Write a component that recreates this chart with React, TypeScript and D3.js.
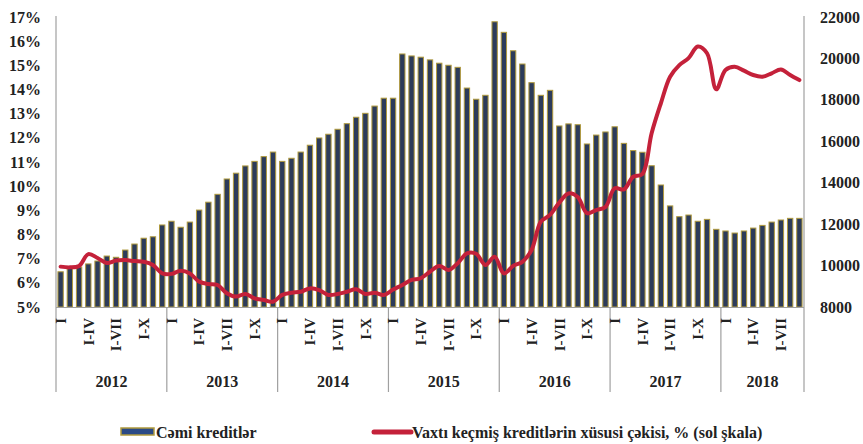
import * as d3 from 'd3'

// Cəmi kreditlər (mln. manat), monthly, 2012-I .. 2018-IX
const loans = [
  9700, 9880, 9930, 10080, 10220, 10460, 10400, 10750, 11040, 11320, 11390, 11960,
  12140, 11850, 12100, 12680, 13060, 13440, 14180, 14460, 14810, 15030, 15260, 15480,
  15030, 15180, 15480, 15810, 16160, 16340, 16580, 16850, 17160, 17350, 17700, 18080,
  18080, 20215, 20120, 20060, 19930, 19770, 19670, 19570, 18570, 18030, 18220, 21770,
  21260, 20370, 19730, 18830, 18220, 18460, 16740, 16840, 16800, 15870, 16300, 16450,
  16700, 15900, 15550, 15470, 14820, 13890, 12880, 12360, 12440, 12140, 12230, 11750,
  11670, 11570, 11670, 11810, 11940, 12100, 12200, 12280, 12280,
]

// Vaxtı keçmiş kreditlərin xüsusi çəkisi, %
const overdueShare = [
  6.67, 6.64, 6.7, 7.19, 7.03, 6.82, 6.92, 6.94, 6.9, 6.87, 6.74, 6.39,
  6.37, 6.5, 6.39, 6.05, 5.95, 5.91, 5.57, 5.43, 5.54, 5.36, 5.29, 5.22,
  5.5, 5.59, 5.63, 5.77, 5.7, 5.5, 5.54, 5.63, 5.73, 5.54, 5.59, 5.5,
  5.72, 5.91, 6.12, 6.19, 6.46, 6.7, 6.53, 6.81, 7.22, 7.2, 6.74, 7.08,
  6.39, 6.7, 6.87, 7.36, 8.53, 8.81, 9.32, 9.7, 9.55, 8.88, 9.01, 9.14,
  9.91, 9.87, 10.39, 10.5, 12.19, 13.43, 14.53, 15.01, 15.3, 15.78, 15.5, 14.01,
  14.81, 14.94, 14.78, 14.6, 14.53, 14.67, 14.83, 14.6, 14.39,
]

const years = ['2012', '2013', '2014', '2015', '2016', '2017', '2018']
const monthsInYear = [12, 12, 12, 12, 12, 12, 9]
const periodLabels = ['I', 'I-IV', 'I-VII', 'I-X']
const periodOffsets = [0, 3, 6, 9]
const leftTicks = [5, 6, 7, 8, 9, 10, 11, 12, 13, 14, 15, 16, 17]
const rightTicks = [8000, 10000, 12000, 14000, 16000, 18000, 20000, 22000]

const W = 863
const H = 444
const left = 56
const right = 804
const top = 17
const bottom = 307

const FONT = '"Liberation Serif", "Times New Roman", serif'
const BAR_FILL = '#2c3b5a'
const BAR_EDGE = '#b09a3e'
const LINE = '#c4213a'
const AXIS = '#a0a0a0'

export default function App() {
  const idx = d3.range(loans.length)
  const x = d3.scaleBand<number>().domain(idx).range([left, right]).paddingInner(0.42).paddingOuter(0.2)
  const yL = d3.scaleLinear().domain([5, 17]).range([bottom, top])
  const yR = d3.scaleLinear().domain([8000, 22000]).range([bottom, top])
  const step = (right - left) / loans.length
  const cx = (i: number) => left + (i + 0.5) * step

  const line = d3
    .line<number>()
    .x((_, i) => cx(i))
    .y((d) => yL(d))
    .curve(d3.curveCatmullRom.alpha(0.5))

  // year boundaries
  const starts: number[] = []
  let acc = 0
  monthsInYear.forEach((m) => {
    starts.push(acc)
    acc += m
  })

  const bw = Math.max(x.bandwidth(), 4)

  return (
    <svg
      width={W}
      height={H}
      style={{ position: 'absolute', left: 0, top: 0, background: '#fff' }}
      fontFamily={FONT}
    >
      {/* bars */}
      {loans.map((v, i) => (
        <rect
          key={i}
          x={cx(i) - bw / 2}
          y={yR(v)}
          width={bw}
          height={bottom - yR(v)}
          fill={BAR_FILL}
          stroke={BAR_EDGE}
          strokeWidth={1}
        />
      ))}

      {/* axes frame */}
      <line x1={left} x2={left} y1={top - 1} y2={bottom} stroke={AXIS} strokeWidth={1.2} />
      <line x1={right} x2={right} y1={top - 1} y2={bottom} stroke={AXIS} strokeWidth={1.2} />
      <line x1={left} x2={right} y1={bottom + 0.5} y2={bottom + 0.5} stroke={AXIS} strokeWidth={1} />

      {/* overdue share line */}
      <path d={line(overdueShare) ?? ''} fill="none" stroke={LINE} strokeWidth={4} strokeLinejoin="round" strokeLinecap="round" />

      {/* left ticks */}
      {leftTicks.map((t) => (
        <text key={t} x={41} y={yL(t)} dy="0.35em" textAnchor="end" fontSize={16} fontWeight="bold" fill="#222">
          {t}%
        </text>
      ))}

      {/* right ticks */}
      {rightTicks.map((t) => (
        <text key={t} x={820} y={yR(t)} dy="0.35em" textAnchor="start" fontSize={16} fontWeight="bold" fill="#222">
          {t}
        </text>
      ))}

      {/* year separators and labels */}
      {starts.map((s, k) => (
        <g key={years[k]}>
          <line x1={left + s * step} x2={left + s * step} y1={bottom} y2={392} stroke={AXIS} strokeWidth={1.2} />
          <text
            x={left + (s + monthsInYear[k] / 2) * step}
            y={381}
            dy="0.35em"
            textAnchor="middle"
            fontSize={16}
            fontWeight="bold"
            fill="#222"
          >
            {years[k]}
          </text>
          {periodOffsets
            .filter((o) => o < monthsInYear[k])
            .map((o, j) => {
              const px = cx(s + o)
              return (
                <text
                  key={j}
                  transform={`translate(${px},318) rotate(-90)`}
                  dy="0.35em"
                  textAnchor="end"
                  fontSize={15}
                  fontWeight="bold"
                  fill="#222"
                >
                  {periodLabels[j]}
                </text>
              )
            })}
        </g>
      ))}
      <line x1={right} x2={right} y1={bottom} y2={392} stroke={AXIS} strokeWidth={1.2} />

      {/* legend */}
      <rect x={121} y={428} width={33} height={7} fill="#2b4a86" stroke={BAR_EDGE} strokeWidth={1.5} />
      <text x={156} y={432} dy="0.35em" fontSize={16} fontWeight="bold" fill="#222">
        Cəmi kreditlər
      </text>
      <line x1={374} x2={411} y1={432} y2={432} stroke={LINE} strokeWidth={5} strokeLinecap="round" />
      <text x={412} y={432} dy="0.35em" fontSize={16} fontWeight="bold" fill="#222">
        Vaxtı keçmiş kreditlərin xüsusi çəkisi, % (sol şkala)
      </text>
    </svg>
  )
}
